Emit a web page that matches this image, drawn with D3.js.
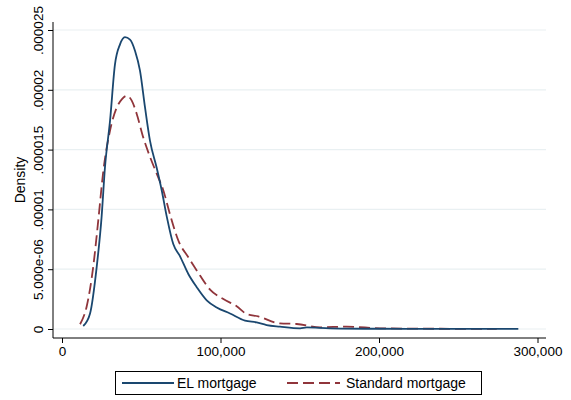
<!DOCTYPE html>
<html>
<head>
<meta charset="utf-8">
<script src="https://cdn.jsdelivr.net/npm/d3@7"></script>
<style>
  body { margin: 0; background: #fff; }
  text { font-family: "Liberation Sans", Arial, sans-serif; fill: #000; }
</style>
</head>
<body>
<svg width="571" height="400"></svg>
<script>
// kernel density of loan amount, EL vs standard mortgages
var elX = [13400, 17700, 21900, 25000, 27100, 30300, 33400, 36600, 39700, 42900, 46100, 49200, 52400, 55500, 59700, 62900, 66100, 70200, 74400, 79700, 85000, 91300, 97600, 106000, 115500, 122800, 129100, 137500, 150200, 154400, 169100, 200600, 240000, 287900];
var elY = [0.25e-6, 1.3e-6, 5.2e-6, 9.4e-6, 13.5e-6, 17.4e-6, 22.1e-6, 23.8e-6, 24.4e-6, 24.2e-6, 23.25e-6, 21.6e-6, 18.5e-6, 15.75e-6, 13.5e-6, 11.6e-6, 9.4e-6, 7.1e-6, 6.1e-6, 4.6e-6, 3.5e-6, 2.4e-6, 1.8e-6, 1.3e-6, 0.7e-6, 0.55e-6, 0.33e-6, 0.2e-6, 0.06e-6, 0.14e-6, 0.06e-6, 0.02e-6, 0.01e-6, 0.01e-6];

var stdX = [11400, 15600, 19700, 22900, 26100, 30300, 34500, 37700, 40800, 44000, 47100, 51300, 55500, 59700, 63900, 68100, 73400, 79700, 85000, 93400, 101800, 110200, 116500, 123800, 137500, 148100, 162800, 179600, 200600, 221500, 274300];
var stdY = [0.4e-6, 1.9e-6, 5.2e-6, 9.1e-6, 13.25e-6, 16.6e-6, 18.5e-6, 19.2e-6, 19.5e-6, 19.1e-6, 18e-6, 16e-6, 14.4e-6, 13e-6, 11.6e-6, 9.6e-6, 7.4e-6, 6.0e-6, 4.9e-6, 3.3e-6, 2.5e-6, 1.9e-6, 1.25e-6, 1.05e-6, 0.47e-6, 0.42e-6, 0.14e-6, 0.2e-6, 0.06e-6, 0.03e-6, 0.01e-6];

var xTicks = [0, 100000, 200000, 300000];
var xTickLabels = ["0", "100,000", "200,000", "300,000"];
var yTicks = [0, 0.000005, 0.00001, 0.000015, 0.00002, 0.000025];
var yTickLabels = ["0", "5.000e-06", ".00001", ".000015", ".00002", ".000025"];

var seriesNames = ["EL mortgage", "Standard mortgage"];
var seriesColors = ["#1a476f", "#90353b"];

var svg = d3.select("svg");

var plotLeft = 53, plotRight = 546, plotTop = 22, plotBottom = 338;

var x = d3.scaleLinear().domain([0, 300000]).range([62, 537.5]);
var y = d3.scaleLinear().domain([0, 0.000025]).range([329, 30]);

// gridlines
svg.append("g")
  .selectAll("line")
  .data(yTicks)
  .enter().append("line")
  .attr("x1", plotLeft)
  .attr("x2", plotRight)
  .attr("y1", d => y(d))
  .attr("y2", d => y(d))
  .attr("stroke", "#e9f0f2")
  .attr("stroke-width", 1.2);

// curves
var line = d3.line()
  .x(d => x(d[0]))
  .y(d => y(d[1]))
  .curve(d3.curveMonotoneX);

var elData = d3.zip(elX, elY);
var stdData = d3.zip(stdX, stdY);

svg.append("path")
  .datum(stdData)
  .attr("d", line)
  .attr("fill", "none")
  .attr("stroke", seriesColors[1])
  .attr("stroke-width", 1.8)
  .attr("stroke-dasharray", "11,5");

svg.append("path")
  .datum(elData)
  .attr("d", line)
  .attr("fill", "none")
  .attr("stroke", seriesColors[0])
  .attr("stroke-width", 1.8);

// y axis
var yAxis = svg.append("g")
  .attr("transform", "translate(" + plotLeft + ",0)")
  .call(d3.axisLeft(y).tickValues(yTicks).tickSize(5).tickFormat((d, i) => yTickLabels[i]));
yAxis.select(".domain").attr("d", "M0," + plotTop + "V" + plotBottom).attr("stroke", "#000");
yAxis.selectAll(".tick line").attr("stroke", "#000");
yAxis.selectAll(".tick text")
  .attr("x", 0)
  .attr("dy", 0)
  .attr("transform", "translate(-10.5,0) rotate(-90)")
  .style("text-anchor", "middle")
  .style("font-size", "13.5px");

// x axis
var xAxis = svg.append("g")
  .attr("transform", "translate(0," + plotBottom + ")")
  .call(d3.axisBottom(x).tickValues(xTicks).tickSize(5).tickFormat((d, i) => xTickLabels[i]));
xAxis.select(".domain").attr("d", "M" + plotLeft + ",0H" + plotRight).attr("stroke", "#000");
xAxis.selectAll(".tick line").attr("stroke", "#000");
xAxis.selectAll(".tick text")
  .attr("y", 18)
  .attr("dy", 0)
  .style("font-size", "13.5px");

svg.selectAll(".tick text").attr("font-family", null);

// y title
svg.append("text")
  .attr("transform", "translate(24.5," + ((plotTop + plotBottom) / 2) + ") rotate(-90)")
  .style("text-anchor", "middle")
  .style("font-size", "14px")
  .text("Density");

// legend
var legend = svg.append("g");
legend.append("rect")
  .attr("x", 115.5)
  .attr("y", 371.5)
  .attr("width", 366)
  .attr("height", 23)
  .attr("fill", "#fff")
  .attr("stroke", "#000")
  .attr("stroke-width", 1);

var legendItems = [
  {name: seriesNames[0], color: seriesColors[0], dash: null, x1: 122, x2: 174, tx: 177},
  {name: seriesNames[1], color: seriesColors[1], dash: "11,5", x1: 287, x2: 340, tx: 346}
];

legend.selectAll("line")
  .data(legendItems)
  .enter().append("line")
  .attr("x1", d => d.x1)
  .attr("x2", d => d.x2)
  .attr("y1", 383)
  .attr("y2", 383)
  .attr("stroke", d => d.color)
  .attr("stroke-width", 1.8)
  .attr("stroke-dasharray", d => d.dash);

legend.selectAll("text")
  .data(legendItems)
  .enter().append("text")
  .attr("x", d => d.tx)
  .attr("y", 388)
  .style("font-size", "14px")
  .text(d => d.name);
</script>
</body>
</html>
